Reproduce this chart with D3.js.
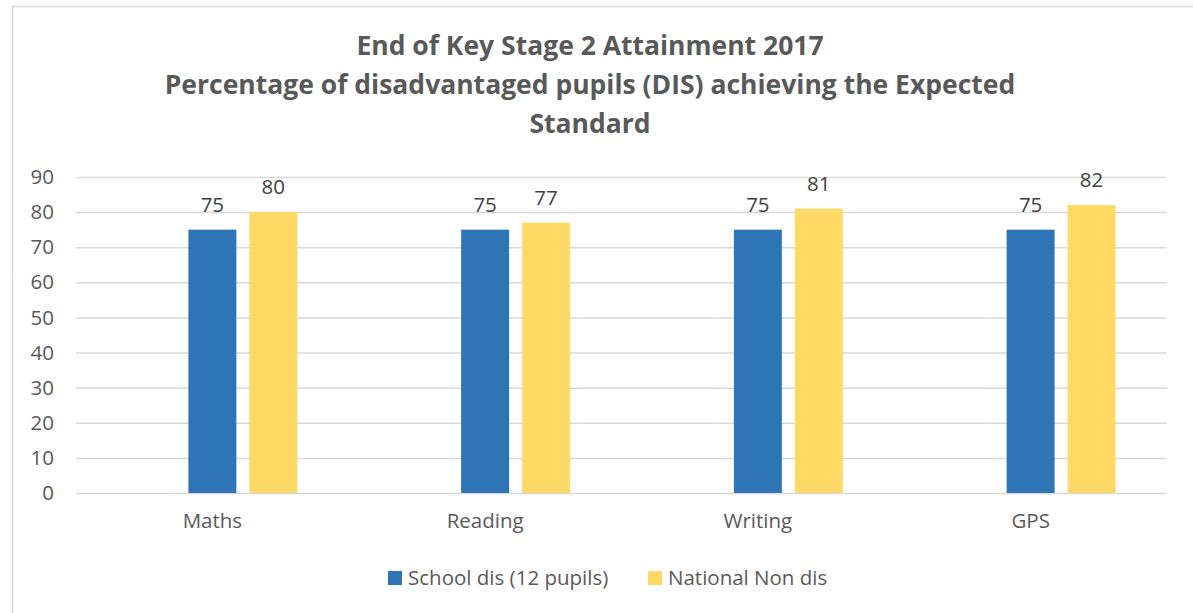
<!DOCTYPE html>
<html>
<head>
<meta charset="utf-8">
<script src="https://cdn.jsdelivr.net/npm/d3@7"></script>
<style>
  body { margin: 0; background: #fff; }
  text { font-family: "Open Sans", sans-serif; }
</style>
</head>
<body>
<script>
const categories = ['Maths', 'Reading', 'Writing', 'GPS']
const seriesNames = ['School dis (12 pupils)', 'National Non dis']
const schoolDis = [75, 75, 75, 75]
const nationalNonDis = [80, 77, 81, 82]
const yTicks = [0, 10, 20, 30, 40, 50, 60, 70, 80, 90]
const titleLines = [
  'End of Key Stage 2 Attainment 2017',
  'Percentage of disadvantaged pupils (DIS) achieving the Expected',
  'Standard'
]

const colors = ['#2e75b6', '#ffd966']
const width = 1193
const height = 613
const plot = { left: 76, right: 1167, top: 177, bottom: 493 }
const labelSize = '20.5px'

const svg = d3.select('body')
  .append('svg')
  .attr('width', width)
  .attr('height', height)

// chart border
svg.append('rect')
  .attr('x', 12.5)
  .attr('y', 6.5)
  .attr('width', 1200)
  .attr('height', 620)
  .attr('fill', 'none')
  .attr('stroke', '#d9d9d9')
  .attr('stroke-width', 1.5)

// title
svg.append('g')
  .selectAll('text')
  .data(titleLines)
  .enter()
  .append('text')
  .attr('x', 590)
  .attr('y', (d, i) => 55 + i * 39)
  .attr('text-anchor', 'middle')
  .attr('fill', '#595959')
  .style('font-size', '26.5px')
  .style('font-weight', 'bold')
  .text(d => d)

const y = d3.scaleLinear()
  .domain([0, 90])
  .range([plot.bottom, plot.top])

const x0 = d3.scaleBand()
  .domain(categories)
  .range([plot.left, plot.right])
  .paddingInner(0.377)
  .paddingOuter(0.1885)

// first slot is an empty series, so the blue bar sits on the category centre
const x1 = d3.scaleBand()
  .domain(['', ...seriesNames])
  .range([0, x0.bandwidth()])
  .paddingInner(0.213)

// gridlines + y labels
const yAxis = d3.axisLeft(y)
  .tickValues(yTicks)
  .tickSize(-(plot.right - plot.left))
  .tickPadding(22)

const yg = svg.append('g')
  .attr('transform', `translate(${plot.left},0)`)
  .call(yAxis)
yg.select('.domain').remove()
yg.selectAll('.tick line')
  .attr('stroke', '#d9d9d9')
  .attr('stroke-width', 1.5)
yg.selectAll('.tick text')
  .attr('fill', '#595959')
  .style('font-size', labelSize)
  .style('font-family', '"Open Sans", sans-serif')

// x labels
const xAxis = d3.axisBottom(x0).tickSize(0).tickPadding(20)
const xg = svg.append('g')
  .attr('transform', `translate(0,${plot.bottom})`)
  .call(xAxis)
xg.select('.domain').remove()
xg.selectAll('.tick')
  .attr('transform', d => `translate(${x0(d) + x1(seriesNames[0]) + x1.bandwidth() / 2},0)`)
xg.selectAll('.tick text')
  .attr('fill', '#595959')
  .style('font-size', labelSize)
  .style('font-family', '"Open Sans", sans-serif')

const series = [schoolDis, nationalNonDis]

const groups = svg.append('g')
  .selectAll('g')
  .data(series)
  .enter()
  .append('g')
  .attr('fill', (d, i) => colors[i])

groups.selectAll('rect')
  .data((d, i) => d.map((v, j) => ({ v, cat: categories[j], s: seriesNames[i] })))
  .enter()
  .append('rect')
  .attr('x', d => x0(d.cat) + x1(d.s))
  .attr('y', d => y(d.v))
  .attr('width', x1.bandwidth())
  .attr('height', d => y(0) - y(d.v))

groups.selectAll('text')
  .data((d, i) => d.map((v, j) => ({ v, cat: categories[j], s: seriesNames[i] })))
  .enter()
  .append('text')
  .attr('x', d => x0(d.cat) + x1(d.s) + x1.bandwidth() / 2)
  .attr('y', d => y(d.v) - 18)
  .attr('text-anchor', 'middle')
  .attr('fill', '#404040')
  .style('font-size', labelSize)
  .text(d => d.v)

// legend
const legendX = [388, 648]
const legend = svg.append('g')
  .selectAll('g')
  .data(seriesNames)
  .enter()
  .append('g')
  .attr('transform', (d, i) => `translate(${legendX[i]},571)`)

legend.append('rect')
  .attr('width', 14)
  .attr('height', 14)
  .attr('fill', (d, i) => colors[i])

legend.append('text')
  .attr('x', 20)
  .attr('y', 14)
  .attr('fill', '#595959')
  .style('font-size', labelSize)
  .text(d => d)
</script>
</body>
</html>
